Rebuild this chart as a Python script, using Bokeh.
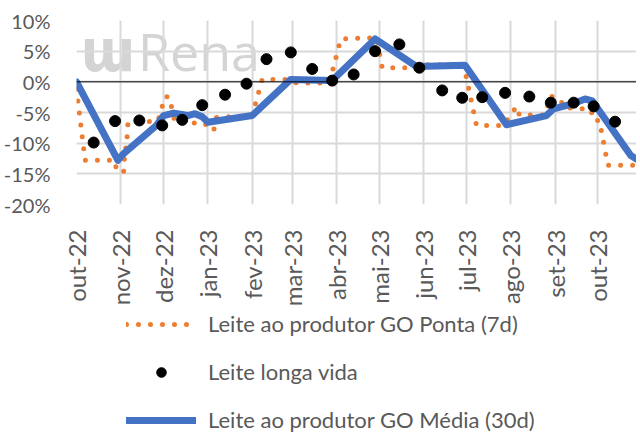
import pandas as pd
from math import pi, nan
from bokeh.plotting import figure
from bokeh.layouts import column
from bokeh.models import (Range1d, FixedTicker, Span, Legend, LegendItem, Label,
                          PrintfTickFormatter)
from bokeh.embed import file_html
from bokeh.resources import INLINE

# ---------------- data (variation, %) ----------------
media_dates = ["2022-10-01", "2022-10-30", "2022-11-03", "2022-11-26", "2022-12-01",
               "2022-12-08", "2022-12-18", "2022-12-23", "2022-12-28", "2023-01-01",
               "2023-02-01", "2023-02-28", "2023-03-29", "2023-04-28", "2023-05-27",
               "2023-06-30", "2023-07-29", "2023-08-26", "2023-08-31", "2023-09-13",
               "2023-09-22", "2023-09-27", "2023-10-24", "2023-10-28"]
media_vals = [0.0, -12.8, -11.7, -7.1, -5.5, -5.1, -5.5, -5.2, -5.7, -6.6,
              -5.5, 0.4, 0.2, 7.0, 2.5, 2.7, -7.0, -5.5, -4.4, -3.6,
              -2.8, -3.1, -12.0, -12.6]

ponta_dates = ["2022-10-01", "2022-10-07", "2022-10-28", "2022-10-29", "2022-11-03",
               "2022-11-04", "2022-11-05", "2022-11-06", "2022-11-27", "2022-12-02",
               "2022-12-05", "2022-12-09", "2022-12-29", "2023-01-05", "2023-01-07",
               "2023-02-01", "2023-02-08", "2023-02-28", "2023-03-04", "2023-03-27",
               "2023-04-04", "2023-04-29", "2023-05-03", "2023-05-27", "2023-05-30",
               "2023-06-29", "2023-07-08", "2023-07-27", "2023-08-05", "2023-08-07",
               "2023-08-25", "2023-08-29", "2023-09-02", "2023-09-05", "2023-09-07",
               "2023-09-26", "2023-09-28", "2023-10-02", "2023-10-08", "2023-10-28"]
ponta_vals = [-1.2, -12.8, -12.8, -14.6, -14.6, -10.8, -10.8, -6.6, -6.4, -2.4,
              -2.5, -6.7, -6.7, -8.0, -5.8, -5.5, 0.4, 0.4, -0.2, -0.2,
              7.0, 7.2, 2.3, 2.3, 2.8, 2.8, -7.1, -7.1, -4.0, -5.4,
              -5.4, -2.3, -2.7, -3.0, -4.2, -4.5, -6.3, -6.3, -13.6, -13.6]

lv_dates = ["2022-10-13", "2022-10-28", "2022-11-14", "2022-11-30", "2022-12-14",
            "2022-12-28", "2023-01-13", "2023-01-28", "2023-02-11", "2023-02-28",
            "2023-03-15", "2023-03-29", "2023-04-13", "2023-04-28", "2023-05-15",
            "2023-05-29", "2023-06-14", "2023-06-28", "2023-07-12", "2023-07-28",
            "2023-08-14", "2023-08-29", "2023-09-14", "2023-09-28", "2023-10-13"]
lv_vals = [-9.9, -6.4, -6.3, -7.1, -6.2, -3.8, -2.1, -0.3, 3.7, 4.8,
           2.1, 0.2, 1.2, 5.0, 6.1, 2.3, -1.4, -2.6, -2.5, -1.8,
           -2.4, -3.4, -3.4, -4.0, -6.5]

month_ticks = ["2022-10-01", "2022-11-01", "2022-12-01", "2023-01-01", "2023-02-01",
               "2023-03-01", "2023-04-01", "2023-05-01", "2023-06-01", "2023-07-01",
               "2023-08-01", "2023-09-01", "2023-10-01"]
month_labels = ["out-22", "nov-22", "dez-22", "jan-23", "fev-23", "mar-23", "abr-23",
                "mai-23", "jun-23", "jul-23", "ago-23", "set-23", "out-23"]
y_ticks = [-20, -15, -10, -5, 0, 5, 10]

series_names = ["Leite ao produtor GO Ponta (7d)", "Leite longa vida",
                "Leite ao produtor GO Média (30d)"]

x_start, x_end = "2022-10-01", "2023-10-28"

# ---------------- styles ----------------
FONT = "Lato"
GREY_TXT = "#595959"
ORANGE, BLUE, BLACK = "#ED7D31", "#4472C4", "black"
ponta_style = dict(line_color=ORANGE, line_width=5, line_dash="0 12", line_cap="round")
media_style = dict(line_color=BLUE, line_width=7, line_join="round", line_cap="round")
lv_style = dict(size=11, fill_color=BLACK, line_color=BLACK)

def ms(s):
    return pd.Timestamp(s).value // 10**6

# ---------------- main chart ----------------
p = figure(x_axis_type="datetime", frame_width=560, frame_height=184,
           min_border_left=71, min_border_top=20, min_border_right=0,
           min_border_bottom=100,
           x_range=Range1d(ms(x_start), ms(x_end)), y_range=Range1d(-20, 10),
           output_backend="svg", toolbar_location=None)
p.outline_line_color = None
p.background_fill_color = "white"
p.border_fill_color = "white"

tick_ms = [ms(d) for d in month_ticks]
p.xaxis.ticker = FixedTicker(ticks=tick_ms)
p.xaxis.major_label_overrides = {t: lab for t, lab in zip(tick_ms, month_labels)}
p.xaxis.major_label_orientation = pi / 2
p.xaxis.major_label_standoff = 19
p.yaxis.ticker = FixedTicker(ticks=y_ticks)
p.yaxis.formatter = PrintfTickFormatter(format="%d%%")
p.yaxis.major_label_standoff = 20
for ax in (p.xaxis, p.yaxis):
    ax.axis_line_color = None
    ax.major_tick_line_color = None
    ax.minor_tick_line_color = None
    ax.major_label_text_font = FONT
    ax.major_label_text_color = GREY_TXT
p.yaxis.major_label_text_font_size = "20px"
p.xaxis.major_label_text_font_size = "24px"

for g in (p.xgrid, p.ygrid):
    g.grid_line_color = "#d9d9d9"
    g.grid_line_width = 2

p.add_layout(Span(location=0, dimension="width", line_color="black", line_width=1))

# watermark (behind the grid)
p.add_layout(Label(x=ms("2022-10-04"), y=5.1, text="ɯ", text_font="DejaVu Sans Condensed",
                   text_font_style="bold", text_font_size="58px", text_color="#d4d4d4",
                   text_baseline="alphabetic", level="image"))
p.add_layout(Label(x=ms("2022-11-13"), y=5.1, text="Rena", text_font="Open Sans",
                   text_font_size="52px", text_color="#d4d4d4",
                   text_baseline="alphabetic", level="image"))

px = [ms(d) for d in ponta_dates]
mx = [ms(d) for d in media_dates]
lx = [ms(d) for d in lv_dates]

p.line(px, ponta_vals, **ponta_style)
p.line(mx, media_vals, **media_style)
p.scatter(lx, lv_vals, **lv_style)

# ---------------- legend strip ----------------
q = figure(width=631, height=124, x_axis_location=None, y_axis_location=None,
           min_border=0, x_range=Range1d(0, 1), y_range=Range1d(0, 1),
           output_backend="svg", toolbar_location=None)
q.outline_line_color = None
q.xgrid.visible = False
q.ygrid.visible = False
# legend-only renderers (no visible data)
g_ponta = q.line([nan], [nan], **ponta_style)
g_lv = q.scatter([nan], [nan], **lv_style)
g_media = q.line([nan], [nan], **media_style)

legend = Legend(items=[LegendItem(label=series_names[0], renderers=[g_ponta]),
                       LegendItem(label=series_names[1], renderers=[g_lv]),
                       LegendItem(label=series_names[2], renderers=[g_media])],
                location=(50, 0), orientation="vertical",
                glyph_width=70, glyph_height=24, label_height=24,
                label_standoff=12, spacing=21, padding=0, margin=0,
                border_line_color=None, background_fill_alpha=0,
                label_text_font=FONT, label_text_font_size="22px",
                label_text_color=GREY_TXT)
q.add_layout(legend)

open("out.html", "w").write(file_html(column(p, q), INLINE))
